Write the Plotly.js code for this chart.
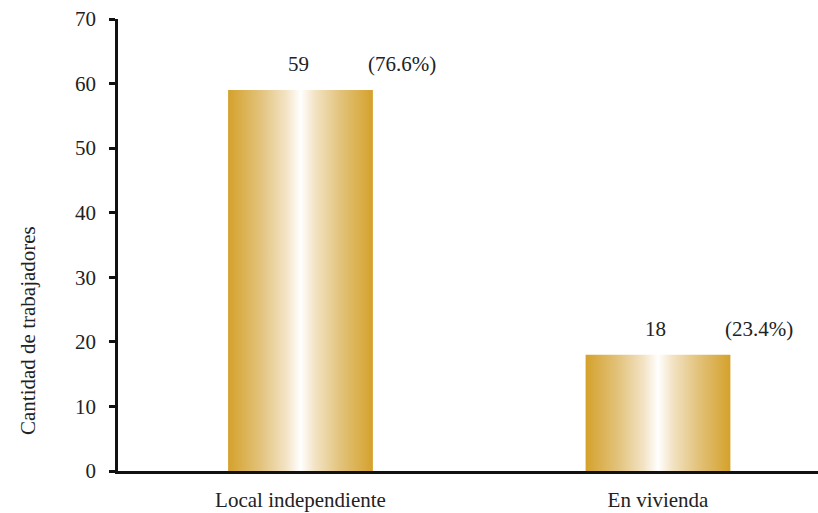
<!DOCTYPE html>
<html>
<head>
<meta charset="utf-8">
<script src="https://cdn.plot.ly/plotly-3.0.1.min.js"></script>
<style>html,body{margin:0;padding:0;background:#fff;}#chart{width:818px;height:513px;}</style>
</head>
<body>
<div id="chart"></div>
<script>
const categories = ["Local independiente", "En vivienda"];
const counts = [59, 18];
const percentLabels = ["(76.6%)", "(23.4%)"];
const yTicks = [0, 10, 20, 30, 40, 50, 60, 70];
const yTitle = "Cantidad de trabajadores";

const serifFamily = "Liberation Serif";
const textColor = '#222';

const annotations = [];
categories.forEach((c, i) => {
  annotations.push({x: c, y: counts[i], xref: 'x', yref: 'y', text: String(counts[i]),
    showarrow: false, yanchor: 'bottom', yshift: 12, xshift: -2,
    font: {family: serifFamily, size: 21, color: textColor}});
  annotations.push({x: c, y: counts[i], xref: 'x', yref: 'y', text: percentLabels[i],
    showarrow: false, yanchor: 'bottom', yshift: 12, xshift: 101,
    font: {family: serifFamily, size: 21, color: textColor}});
});
annotations.push({xref: 'paper', yref: 'paper', x: -0.1286, y: 0.312, text: yTitle, textangle: -90,
  showarrow: false, xanchor: 'center', yanchor: 'middle',
  font: {family: serifFamily, size: 21, color: textColor}});

const trace = {
  type: 'bar', x: categories, y: counts, width: 0.405,
  marker: {color: '#D4A12B', line: {width: 0}},
  hoverinfo: 'none'
};

const layout = {
  width: 818, height: 513,
  margin: {l: 118, r: 0, t: 19, b: 42},
  paper_bgcolor: '#fff', plot_bgcolor: '#fff',
  showlegend: false,
  font: {family: serifFamily, size: 21, color: textColor},
  xaxis: {type: 'category', range: [-0.5105, 1.4476], showline: true, linecolor: '#111', linewidth: 2.5,
    ticks: '', showgrid: false, zeroline: false, ticklabelstandoff: 8,
    tickfont: {family: serifFamily, size: 21, color: textColor}},
  yaxis: {range: [0, 70], tickvals: yTicks, showline: true, linecolor: '#111', linewidth: 2.5,
    ticks: 'outside', ticklen: 6, tickwidth: 2.5, tickcolor: '#111', showgrid: false, zeroline: false,
    ticklabelstandoff: 9, tickfont: {family: serifFamily, size: 21, color: textColor}},
  annotations: annotations
};

Plotly.newPlot('chart', [trace], layout, {displayModeBar: false}).then(gd => {
  const svg = gd.querySelector('.main-svg');
  const ns = 'http://www.w3.org/2000/svg';
  let defs = svg.querySelector('defs');
  if (!defs) { defs = document.createElementNS(ns, 'defs'); svg.insertBefore(defs, svg.firstChild); }
  const g = document.createElementNS(ns, 'linearGradient');
  g.setAttribute('id', 'goldGrad');
  g.setAttribute('x1', '0'); g.setAttribute('x2', '1'); g.setAttribute('y1', '0'); g.setAttribute('y2', '0');
  const stops = [[0, '#D4A12B'], [0.22, '#E2C27A'], [0.4, '#F3E3C4'], [0.5, '#FFFFFF'], [0.6, '#F3E3C4'], [0.78, '#E2C27A'], [1, '#D4A12B']];
  stops.forEach(([o, c]) => {
    const s = document.createElementNS(ns, 'stop');
    s.setAttribute('offset', o); s.setAttribute('stop-color', c);
    g.appendChild(s);
  });
  defs.appendChild(g);
  gd.querySelectorAll('.bars .point path').forEach(p => { p.style.fill = 'url(#goldGrad)'; });
});
</script>
</body>
</html>
